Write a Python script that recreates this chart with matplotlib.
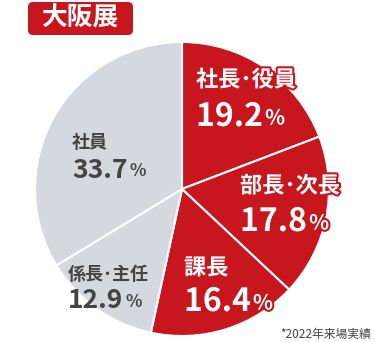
import matplotlib.pyplot as plt
import matplotlib.patheffects as pe
from matplotlib.patches import FancyBboxPatch

plt.rcParams['font.family'] = ['Noto Sans CJK JP', 'DejaVu Sans']

# data
labels = ['社長･役員', '部長･次長', '課長', '係長･主任', '社員']
values = [19.2, 17.8, 16.4, 12.9, 33.7]
colors = ['#c8161e', '#c8161e', '#c8161e', '#d4d9df', '#d4d9df']

RED = '#c8161e'
GRAY_TXT = '#444444'
H = 342

fig = plt.figure(figsize=(3.75, 3.42), dpi=100)
ax = fig.add_axes([0, 0, 1, 1])

ax.pie(values, colors=colors, startangle=90, counterclock=False,
       center=(182, H - 189), radius=147,
       wedgeprops=dict(edgecolor='white', linewidth=1.5))

ax.set_xlim(0, 375)
ax.set_ylim(0, H)
ax.set_aspect('equal')
ax.axis('off')

# label positions in pixels (left x, top-row y, bottom-row y)
pos = [(196, 80, 117), (240, 186, 222), (184, 268, 302), (68, 274, 301), (72, 143, 170)]
stroke = [pe.withStroke(linewidth=3, foreground=RED)]

for i, (lab, val) in enumerate(zip(labels, values)):
    x, y1, y2 = pos[i]
    on_red = colors[i] == RED
    tc = 'white' if on_red else GRAY_TXT
    fx = stroke if on_red else None
    s1 = 16 if on_red else 13
    s2 = 23 if on_red else 19
    ax.text(x, H - y1, lab, fontsize=s1, fontweight='bold', color=tc,
            va='center', ha='left', path_effects=fx)
    t = ax.text(x, H - y2, f'{val:.1f}', fontsize=s2, fontweight='bold', color=tc,
                va='center', ha='left', path_effects=fx)
    ax.annotate('%', xy=(1, 0.14), xycoords=t, xytext=(1.5, 0), textcoords='offset points',
                fontsize=s2 * 0.65, fontweight='bold', color=tc, va='bottom', ha='left',
                path_effects=fx)

# title box
box = FancyBboxPatch((28, H - 35), 105, 33, boxstyle='round,pad=0,rounding_size=5',
                     facecolor=RED, edgecolor='none')
ax.add_patch(box)
ax.text(80, H - 18, '大阪展', fontsize=18.5, fontweight='bold', color='white',
        ha='center', va='center')

ax.text(371, H - 334, '*2022年来場実績', fontsize=8.5, color=GRAY_TXT,
        ha='right', va='center')

fig.savefig('out.png', dpi=100)
